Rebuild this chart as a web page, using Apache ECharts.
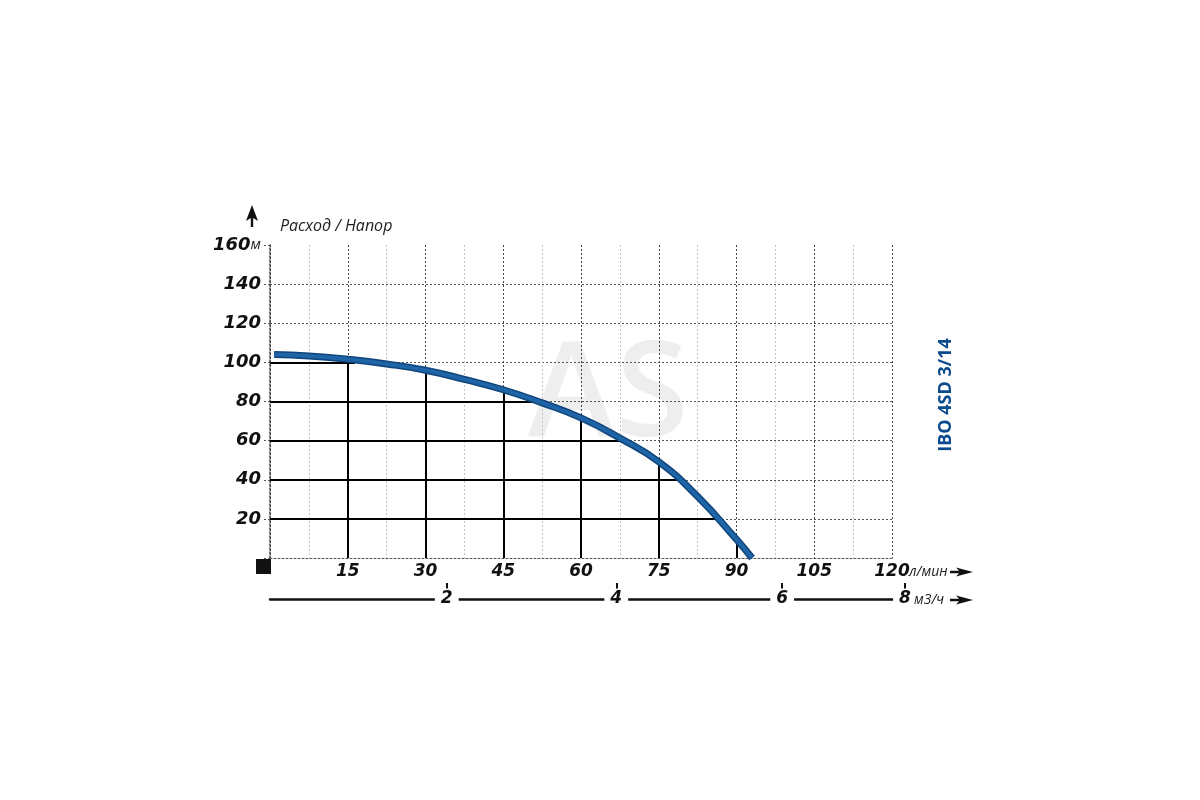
<!DOCTYPE html>
<html>
<head>
<meta charset="utf-8">
<script src="https://cdn.jsdelivr.net/npm/echarts@6.0.0/dist/echarts.min.js"></script>
<style>
  html, body { margin: 0; background: #fff; }
  #chart { width: 1200px; height: 800px; }
</style>
</head>
<body>
<div id="chart"></div>
<script>
// кривая напор / расход (л/мин -> м)
const flowLpm = [0.8, 7.5, 15, 22.5, 30, 37.5, 45, 52.5, 60, 67.5, 75, 82.5, 90, 93];
const headM = [104, 103.3, 101.6, 99.2, 96, 91.3, 86, 79.3, 71.6, 61.3, 49.2, 31.4, 9.5, 0];

// сплошные линии-выноски до кривой
const dropFlows = [15, 30, 45, 60, 75, 90];
const dropFlowHeads = [101.6, 96, 86, 71.6, 49.2, 9.5];
const dropHeads = [20, 40, 60, 80, 100];
const dropHeadFlows = [86.8, 79.4, 68.1, 51.2, 16.4];

const flowTicks = [15, 30, 45, 60, 75, 90, 105, 120];
const m3Labels = ['2', '4', '6', '8'];
const m3Pos = [34.1, 66.8, 98.8, 122.5];

const numFont = 'DejaVu Sans';
const unitFont = 'Open Sans';

let chart = echarts.init(document.getElementById('chart'));

let dropLines = dropFlows.map((f, i) => ({ coords: [[f, 0], [f, dropFlowHeads[i]]] }))
  .concat(dropHeads.map((h, i) => ({ coords: [[0, h], [dropHeadFlows[i], h]] })));

let curve = flowLpm.map((f, i) => [f, headM[i]]);

// стрелка вправо
function rightArrow(x, y) {
  return {
    type: 'polygon',
    z: 20,
    shape: { points: [[x + 23, y], [x + 6, y - 4.5], [x + 9, y - 1.3], [x, y - 1.3], [x, y + 1.3], [x + 9, y + 1.3], [x + 6, y + 4.5]] },
    style: { fill: '#111' }
  };
}

function unitText(text, x, y) {
  return {
    type: 'text',
    x: x, y: y, z: 20,
    style: { text: text, font: 'italic 14px "Open Sans"', fill: '#222', align: 'left', verticalAlign: 'middle' }
  };
}

let option = {
  animation: false,
  backgroundColor: '#fff',
  grid: [
    { left: 270, right: 308, top: 245, bottom: 242 },
    { left: 270, right: 295, top: 560, height: 39 }
  ],
  xAxis: [
    {
      type: 'value',
      gridIndex: 0,
      min: 0,
      max: 120,
      interval: 7.5,
      axisLine: { show: true, lineStyle: { color: '#555', type: [2, 2], width: 1 } },
      axisTick: { show: false },
      axisLabel: {
        margin: 5,
        fontFamily: numFont, fontWeight: 'bold', fontStyle: 'italic', fontSize: 17, color: '#111',
        formatter: v => flowTicks.includes(v) ? String(v) : ''
      },
      splitLine: { show: true, lineStyle: { color: ['#444', '#c4c4c4'], type: [2, 2], width: 1 } }
    },
    {
      type: 'value',
      gridIndex: 1,
      min: 0,
      max: 122.5,
      axisLine: { show: true, lineStyle: { color: '#111', width: 2.5 } },
      axisTick: { show: true, customValues: m3Pos, inside: true, length: 16, lineStyle: { color: '#111', width: 2 } },
      axisLabel: {
        customValues: m3Pos,
        margin: 0,
        verticalAlign: 'middle',
        backgroundColor: '#fff',
        padding: [2, 6],
        fontFamily: numFont, fontWeight: 'bold', fontStyle: 'italic', fontSize: 17, color: '#111',
        formatter: v => {
          let i = m3Pos.indexOf(v);
          return i >= 0 ? m3Labels[i] : '';
        }
      },
      splitLine: { show: false }
    }
  ],
  yAxis: [
    {
      type: 'value',
      gridIndex: 0,
      min: 0,
      max: 160,
      interval: 20,
      name: 'Расход / Напор',
      nameLocation: 'end',
      nameGap: 19,
      nameTextStyle: { fontFamily: unitFont, fontStyle: 'italic', fontSize: 16, color: '#222', align: 'left', verticalAlign: 'middle', padding: [0, 0, 0, 10] },
      axisLine: { show: true, lineStyle: { color: '#444', type: [2, 2], width: 1.5 } },
      axisTick: { show: true, length: 7, lineStyle: { color: '#555', type: [2, 2] } },
      axisLabel: {
        margin: 9,
        formatter: v => {
          if (v === 0) return '';
          if (v === 160) return '{n|160}{u|м}';
          return '{n|' + v + '}';
        },
        rich: {
          n: { fontFamily: numFont, fontWeight: 'bold', fontStyle: 'italic', fontSize: 18, color: '#111' },
          u: { fontFamily: unitFont, fontStyle: 'italic', fontSize: 15, color: '#222' }
        }
      },
      splitLine: { show: true, showMinLine: false, showMaxLine: false, lineStyle: { color: '#555', type: [2, 2], width: 1 } }
    },
    { type: 'value', gridIndex: 1, show: false, min: 0, max: 1 }
  ],
  series: [
    {
      type: 'lines',
      coordinateSystem: 'cartesian2d',
      xAxisIndex: 0,
      yAxisIndex: 0,
      data: dropLines,
      lineStyle: { color: '#000', width: 2, opacity: 1 },
      silent: true,
      z: 3
    },
    {
      type: 'line',
      data: curve,
      smooth: 0.5,
      symbol: 'none',
      lineStyle: { color: '#10467c', width: 7, cap: 'butt' },
      z: 5
    },
    {
      type: 'line',
      data: curve,
      smooth: 0.5,
      symbol: 'none',
      lineStyle: { color: '#1e64a6', width: 4, cap: 'butt' },
      z: 6
    }
  ],
  graphic: [
    {
      type: 'text',
      x: 608, y: 398, z: -10,
      style: { text: 'AS', font: '600 133px "Open Sans"', fill: 'rgba(0,0,0,0.065)', align: 'center', verticalAlign: 'middle' }
    },
    {
      type: 'rect',
      shape: { x: 256, y: 559, width: 15, height: 15 },
      style: { fill: '#111' }
    },
    {
      type: 'polygon',
      shape: { points: [[252, 205], [258, 221], [253.2, 218], [253.2, 227], [250.8, 227], [250.8, 218], [246, 221]] },
      style: { fill: '#111' }
    },
    unitText('л/мин', 909, 572),
    unitText('м3/ч', 914, 600),
    rightArrow(950, 572),
    rightArrow(950, 600),
    {
      type: 'text',
      x: 946, y: 395, rotation: Math.PI / 2,
      style: { text: 'IBO 4SD 3/14', font: 'bold 18px "Open Sans"', fill: '#0b4a8c', align: 'center', verticalAlign: 'middle' }
    }
  ]
};

chart.setOption(option);
</script>
</body>
</html>
